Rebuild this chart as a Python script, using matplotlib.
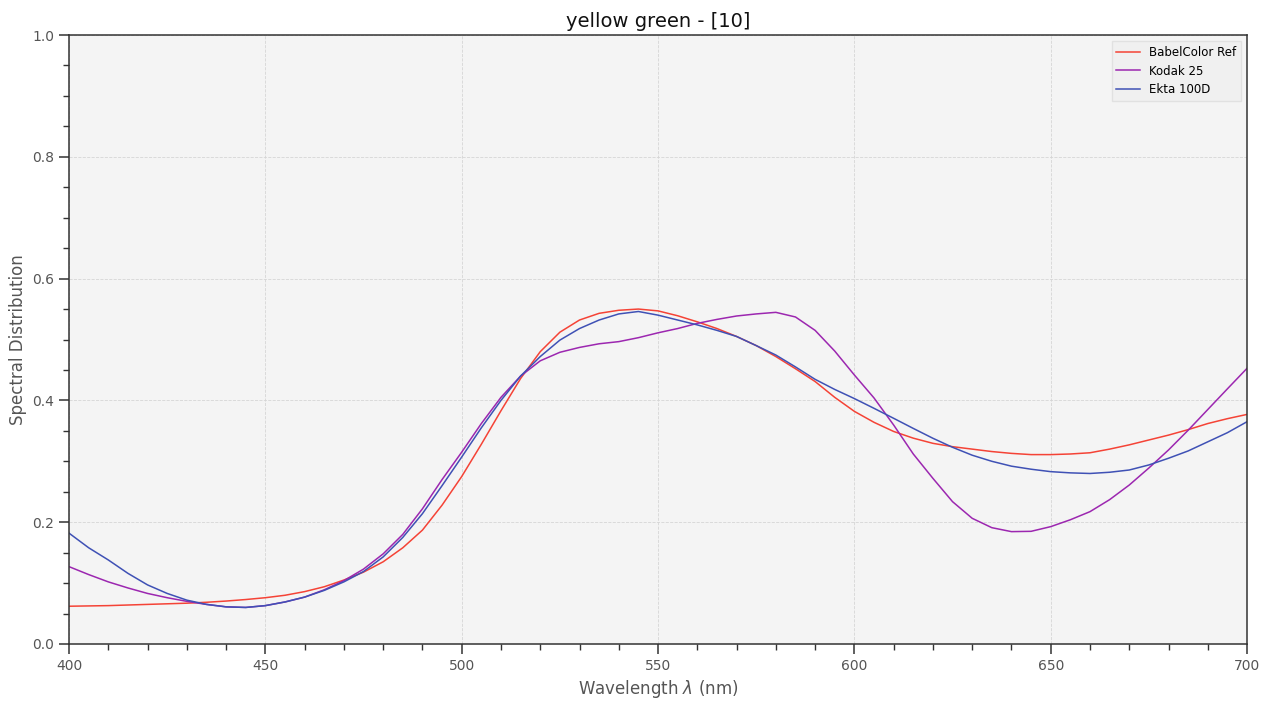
import matplotlib
matplotlib.use("Agg")
import matplotlib.pyplot as plt
from matplotlib.ticker import AutoMinorLocator

# wavelengths (nm), 5 nm steps
wl = list(range(400, 705, 5))

babelcolor = [0.062, 0.0625, 0.063, 0.064, 0.065, 0.066, 0.067, 0.0685, 0.0705,
              0.073, 0.076, 0.080, 0.086, 0.094, 0.105, 0.118, 0.135, 0.158,
              0.187, 0.228, 0.275, 0.328, 0.383, 0.436, 0.480, 0.512, 0.532,
              0.543, 0.548, 0.550, 0.547, 0.539, 0.529, 0.518, 0.505, 0.490,
              0.472, 0.452, 0.431, 0.405, 0.382, 0.364, 0.349, 0.338, 0.3295,
              0.324, 0.320, 0.316, 0.313, 0.311, 0.311, 0.312, 0.314, 0.320,
              0.327, 0.335, 0.343, 0.352, 0.362, 0.370, 0.377]

kodak25 = [0.127, 0.114, 0.102, 0.092, 0.083, 0.076, 0.070, 0.065, 0.061,
           0.060, 0.063, 0.069, 0.077, 0.089, 0.104, 0.123, 0.148, 0.180,
           0.222, 0.270, 0.315, 0.362, 0.405, 0.440, 0.465, 0.479, 0.487,
           0.493, 0.4965, 0.503, 0.511, 0.518, 0.5265, 0.533, 0.5386, 0.542,
           0.5446, 0.537, 0.515, 0.481, 0.4417, 0.404, 0.3596, 0.312, 0.272,
           0.2337, 0.2064, 0.191, 0.1845, 0.185, 0.1927, 0.204, 0.2173, 0.237,
           0.261, 0.289, 0.3186, 0.351, 0.385, 0.419, 0.4527]

ekta100d = [0.182, 0.158, 0.138, 0.116, 0.097, 0.083, 0.072, 0.065, 0.061,
            0.060, 0.063, 0.069, 0.077, 0.088, 0.102, 0.119, 0.143, 0.175,
            0.214, 0.260, 0.307, 0.355, 0.400, 0.440, 0.472, 0.499, 0.518,
            0.532, 0.542, 0.546, 0.540, 0.532, 0.524, 0.515, 0.505, 0.490,
            0.4745, 0.455, 0.4346, 0.418, 0.403, 0.387, 0.3706, 0.354, 0.3378,
            0.323, 0.310, 0.300, 0.292, 0.287, 0.283, 0.281, 0.280, 0.282,
            0.2857, 0.294, 0.305, 0.317, 0.332, 0.347, 0.365]

series = [("BabelColor Ref", babelcolor, "#f44336"),
          ("Kodak 25", kodak25, "#9c27b0"),
          ("Ekta 100D", ekta100d, "#3f51b5")]

fig = plt.figure(figsize=(12.69, 7.09), dpi=100)
ax = fig.add_axes([0.0544, 0.0917, 0.9283, 0.8589])
ax.set_facecolor("#f4f4f4")

for name, vals, col in series:
    ax.plot(wl, vals, color=col, lw=1.1, label=name)

ax.set_xlim(400, 700)
ax.set_ylim(0, 1)
ax.xaxis.set_minor_locator(AutoMinorLocator(5))
ax.yaxis.set_minor_locator(AutoMinorLocator(4))
ax.grid(True, which="major", ls="--", lw=0.6, color="#d5d5d5")
ax.tick_params(which="major", length=7, width=1.1, colors="#333333",
               labelcolor="#555555", labelsize=10)
ax.tick_params(which="minor", length=4, width=1.0, colors="#333333")
for s in ax.spines.values():
    s.set_color("#333333")
    s.set_linewidth(1.1)

ax.set_title("yellow green - [10]", fontsize=14, color="#111111")
ax.set_xlabel(r"Wavelength $\lambda$ (nm)", fontsize=12, color="#555555")
ax.set_ylabel("Spectral Distribution", fontsize=12, color="#555555")

leg = ax.legend(loc="upper right", fontsize=8.5, frameon=True, fancybox=False)
leg.get_frame().set_facecolor("#f0f0f0")
leg.get_frame().set_edgecolor("#dddddd")

fig.savefig("out.png", dpi=100)
